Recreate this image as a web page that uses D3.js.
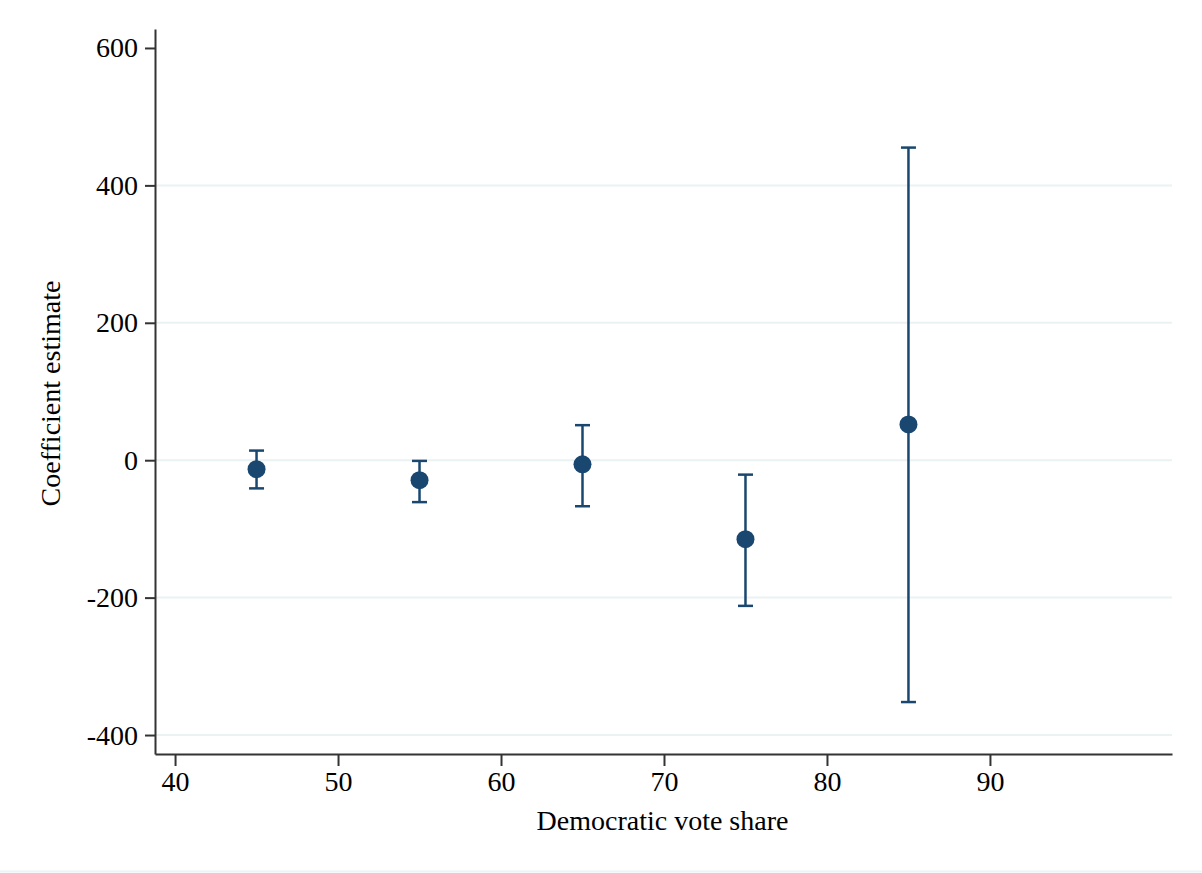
<!DOCTYPE html>
<html>
<head>
<meta charset="utf-8">
<script src="https://cdn.jsdelivr.net/npm/d3@7"></script>
<style>
  body { margin: 0; background: #fff; }
  svg { display: block; }
  text { font-family: "Liberation Serif", "Times New Roman", serif; fill: #000; }
</style>
</head>
<body>
<div id="chart"></div>
<script>
// vote share bins (x) and coefficient estimates with CI bounds
var voteShare = [45, 55, 65, 75, 85];
var estimate = [-13, -29, -6, -115, 52];
var ciLow = [-41, -61, -67, -212, -352];
var ciHigh = [14, -1, 51, -21, 455];

var xTicks = [40, 50, 60, 70, 80, 90];
var yTicks = [-400, -200, 0, 200, 400, 600];
var yGrid = [-400, -200, 0, 200, 400];

var width = 1202, height = 873;
var plotLeft = 155, plotRight = 1172, plotTop = 29, plotBottom = 754;
var navy = "#1a476f";
var fontSize = "28px";

var svg = d3.select("#chart")
    .append("svg")
    .attr("width", width)
    .attr("height", height);

var x = d3.scaleLinear().domain([38.77, 101.17]).range([plotLeft, plotRight]);
var y = d3.scaleLinear().domain([-427.6, 627.6]).range([plotBottom, plotTop]);

//Light gridlines
svg.append("g")
    .selectAll("line")
    .data(yGrid)
    .enter()
    .append("line")
    .attr("x1", plotLeft)
    .attr("x2", plotRight)
    .attr("y1", function(d){ return y(d); })
    .attr("y2", function(d){ return y(d); })
    .attr("stroke", "#eaf2f3")
    .attr("stroke-width", 2);

//Y axis, plain hyphen for negatives like the original
var yAxis = svg.append("g")
    .attr("transform", "translate(" + plotLeft + ",0)")
    .call(d3.axisLeft(y).tickValues(yTicks).tickFormat(function(d){ return String(d); })
        .tickSize(10).tickPadding(7).tickSizeOuter(0));
yAxis.select(".domain").attr("stroke", "#333").attr("stroke-width", 2);
yAxis.selectAll(".tick line").attr("stroke", "#333").attr("stroke-width", 2);
yAxis.selectAll(".tick text")
    .style("font-size", fontSize)
    .style("font-family", "Liberation Serif")
    .attr("fill", "#000");

//X axis
var xAxis = svg.append("g")
    .attr("transform", "translate(0," + plotBottom + ")")
    .call(d3.axisBottom(x).tickValues(xTicks).tickFormat(function(d){ return String(d); })
        .tickSize(12).tickPadding(5).tickSizeOuter(0));
xAxis.select(".domain").attr("stroke", "#333").attr("stroke-width", 2);
xAxis.selectAll(".tick line").attr("stroke", "#333").attr("stroke-width", 2);
xAxis.selectAll(".tick text")
    .style("font-size", fontSize)
    .style("font-family", "Liberation Serif")
    .attr("fill", "#000");

//Axis titles
svg.append("text")
    .attr("x", (plotLeft + plotRight) / 2 - 1)
    .attr("y", 830)
    .attr("text-anchor", "middle")
    .style("font-size", fontSize)
    .text("Democratic vote share");

svg.append("text")
    .attr("transform", "translate(60," + ((plotTop + plotBottom) / 2 + 2) + ") rotate(-90)")
    .attr("text-anchor", "middle")
    .style("font-size", fontSize)
    .text("Coefficient estimate");

//Error bars
var idx = d3.range(voteShare.length);
var bars = svg.append("g");
bars.selectAll("line.ci")
    .data(idx)
    .enter()
    .append("line")
    .attr("class", "ci")
    .attr("x1", function(i){ return x(voteShare[i]); })
    .attr("x2", function(i){ return x(voteShare[i]); })
    .attr("y1", function(i){ return y(ciLow[i]); })
    .attr("y2", function(i){ return y(ciHigh[i]); })
    .attr("stroke", navy)
    .attr("stroke-width", 2.5);

[ciLow, ciHigh].forEach(function(bound){
    bars.append("g")
        .selectAll("line")
        .data(idx)
        .enter()
        .append("line")
        .attr("x1", function(i){ return x(voteShare[i]) - 7.5; })
        .attr("x2", function(i){ return x(voteShare[i]) + 7.5; })
        .attr("y1", function(i){ return y(bound[i]); })
        .attr("y2", function(i){ return y(bound[i]); })
        .attr("stroke", navy)
        .attr("stroke-width", 2.5);
});

//Point estimates
svg.append("g")
    .selectAll("circle")
    .data(idx)
    .enter()
    .append("circle")
    .attr("cx", function(i){ return x(voteShare[i]); })
    .attr("cy", function(i){ return y(estimate[i]); })
    .attr("r", 9)
    .attr("fill", navy);

//Faint border at the bottom of the image
svg.append("line")
    .attr("x1", 0)
    .attr("x2", width)
    .attr("y1", 871.5)
    .attr("y2", 871.5)
    .attr("stroke", "#eef3f4")
    .attr("stroke-width", 2);
</script>
</body>
</html>
